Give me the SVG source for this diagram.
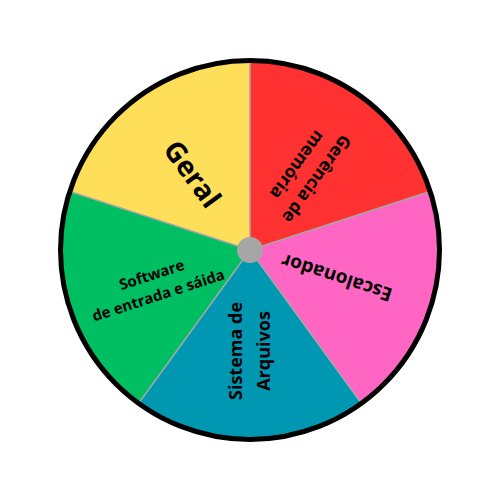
<svg xmlns="http://www.w3.org/2000/svg" width="500" height="500" viewBox="0 0 500 500">
<style>
.lbl{font-family:"Open Sans","Noto Sans","DejaVu Sans",sans-serif;font-weight:bold;fill:#000;text-anchor:middle}
.sep{stroke:#a6a6a6;stroke-width:1.5;fill:none}
</style>
<rect width="500" height="500" fill="#fff"/>
<g id="geral">
<path d="M250 250 L250 60 A190 190 0 0 0 69.30 191.29 Z" fill="#FFDE59"/>
<text class="lbl" font-size="28" transform="translate(192.5,174) rotate(54)" y="10">Geral</text>
</g>
<g id="gerencia-memoria">
<path d="M250 250 L250 60 A190 190 0 0 1 430.70 191.29 Z" fill="#FF3131"/>
<text class="lbl" font-size="17.5" transform="translate(307,172) rotate(126)"><tspan x="0" y="-6">Gerência de</tspan><tspan x="0" y="18">memória</tspan></text>
</g>
<g id="escalonador">
<path d="M250 250 L430.70 191.29 A190 190 0 0 1 361.68 403.71 Z" fill="#FF66C4"/>
<text class="lbl" font-size="19" transform="translate(336.5,278) rotate(198)" y="7">Escalonador</text>
</g>
<g id="sistema-arquivos">
<path d="M250 250 L361.68 403.71 A190 190 0 0 1 138.32 403.71 Z" fill="#0097B2"/>
<text class="lbl" font-size="18" transform="translate(250,351) rotate(-90)"><tspan x="0" y="-8">Sistema de</tspan><tspan x="0" y="20">Arquivos</tspan></text>
</g>
<g id="software-es">
<path d="M250 250 L138.32 403.71 A190 190 0 0 1 69.30 191.29 Z" fill="#00BF63"/>
<text class="lbl" font-size="15" transform="translate(155,285) rotate(-18)"><tspan x="0" y="-5.5">Software</tspan><tspan x="0" y="16">de entrada e sáida</tspan></text>
</g>
<g id="connectors">
<line class="sep" x1="250" y1="250" x2="250" y2="60"/>
<line class="sep" x1="250" y1="250" x2="430.70" y2="191.29"/>
<line class="sep" x1="250" y1="250" x2="361.68" y2="403.71"/>
<line class="sep" x1="250" y1="250" x2="138.32" y2="403.71"/>
<line class="sep" x1="250" y1="250" x2="69.30" y2="191.29"/>
</g>
<circle cx="250" cy="250" r="189.5" fill="none" stroke="#000" stroke-width="5"/>
<circle id="hub" cx="250" cy="250" r="13" fill="#a6a6a6"/>
</svg>
